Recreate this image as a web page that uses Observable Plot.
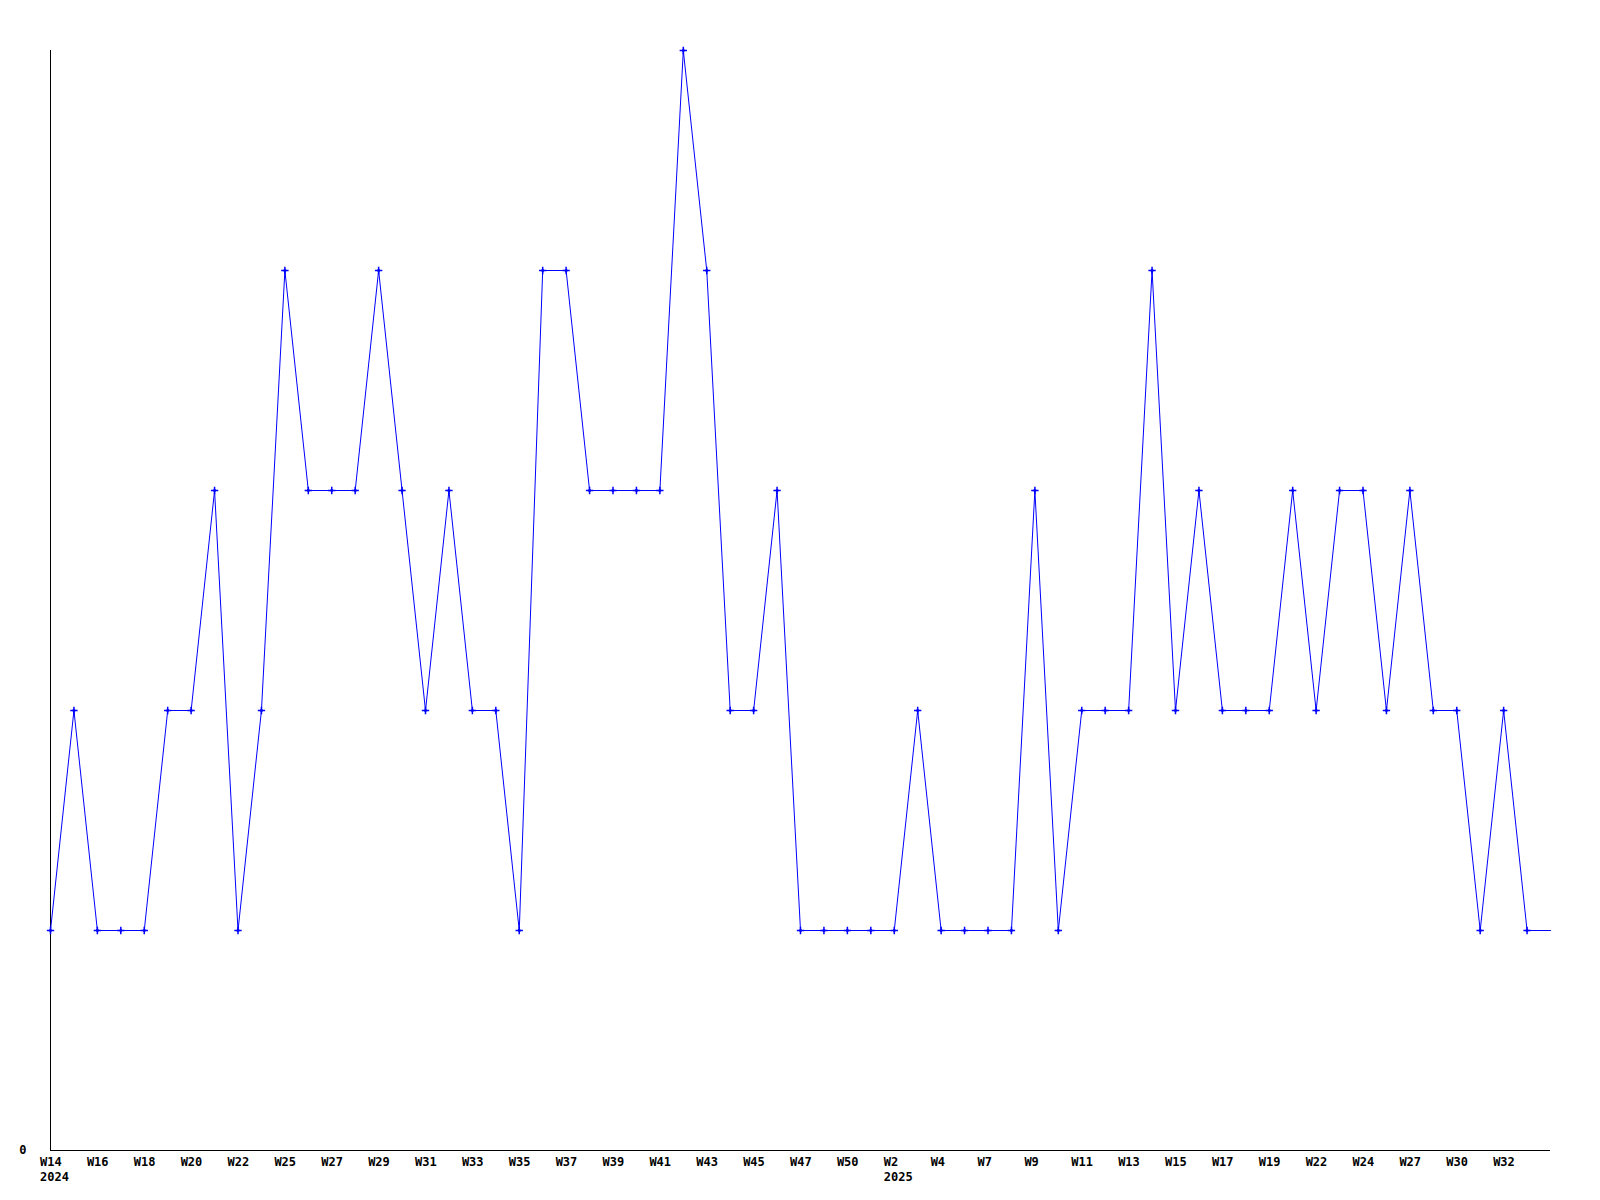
<!DOCTYPE html>
<html>
<head>
<meta charset="utf-8">
<script src="https://cdn.jsdelivr.net/npm/d3@7"></script>
<script src="https://cdn.jsdelivr.net/npm/@observablehq/plot@0.6"></script>
<style>
  html, body { margin: 0; padding: 0; background: #fff; }
  #chart svg { display: block; }
</style>
</head>
<body>
<div id="chart"></div>
<script>
// Weekly values (one per period)
const values = [
  1, 2, 1, 1, 1, 2, 2, 3, 1, 2,
  4, 3, 3, 3, 4, 3, 2, 3, 2, 2,
  1, 4, 4, 3, 3, 3, 3, 5, 4, 2,
  2, 3, 1, 1, 1, 1, 1, 2, 1, 1,
  1, 1, 3, 1, 2, 2, 2, 4, 2, 3,
  2, 2, 2, 3, 2, 3, 3, 2, 3, 2,
  2, 1, 2, 1, 1
];

// Tick labels placed on every second period
const tickLabels = [
  "W14\n2024", "W16", "W18", "W20", "W22", "W25", "W27", "W29", "W31", "W33",
  "W35", "W37", "W39", "W41", "W43", "W45", "W47", "W50", "W2\n2025", "W4",
  "W7", "W9", "W11", "W13", "W15", "W17", "W19", "W22", "W24", "W27",
  "W30", "W32"
];

const data = values.map((v, i) => ({i, v}));
const marked = data.filter((d) => d.i < values.length - 1);
const tickPositions = tickLabels.map((_, k) => k * 2);
const labelFor = new Map(tickPositions.map((p, k) => [p, tickLabels[k]]));

const chart = Plot.plot({
  width: 1600,
  height: 1200,
  marginLeft: 50,
  marginRight: 50,
  marginTop: 50,
  marginBottom: 50,
  style: {fontFamily: "'DejaVu Sans Mono', monospace", fontSize: "12px", fontWeight: "bold", color: "#000", background: "#fff"},
  x: {type: "linear", domain: [0, values.length - 1]},
  y: {domain: [0, 5]},
  marks: [
    Plot.axisX({
      ticks: tickPositions,
      tickFormat: (d) => labelFor.get(d),
      tickSize: 0,
      tickPadding: 5,
      textAnchor: "start",
      dx: -10.5,
      lineHeight: 1.25,
      label: null,
      fill: "#000"
    }),
    Plot.axisY({
      ticks: [0],
      tickFormat: (d) => String(d),
      tickSize: 0,
      tickPadding: 24,
      label: null,
      fill: "#000"
    }),
    Plot.ruleX([0], {stroke: "#000", strokeWidth: 1}),
    Plot.ruleY([0], {stroke: "#000", strokeWidth: 1}),
    Plot.line(data, {x: "i", y: "v", stroke: "#0000ff", strokeWidth: 1}),
    Plot.dot(marked, {x: "i", y: "v", symbol: "plus", r: 2.5, stroke: "#0000ff", strokeWidth: 1.5}),
    Plot.dot(marked, {x: "i", y: "v", symbol: "square", r: 1.4, fill: "#0000ff", stroke: "none"})
  ]
});

document.getElementById("chart").appendChild(chart);
</script>
</body>
</html>
